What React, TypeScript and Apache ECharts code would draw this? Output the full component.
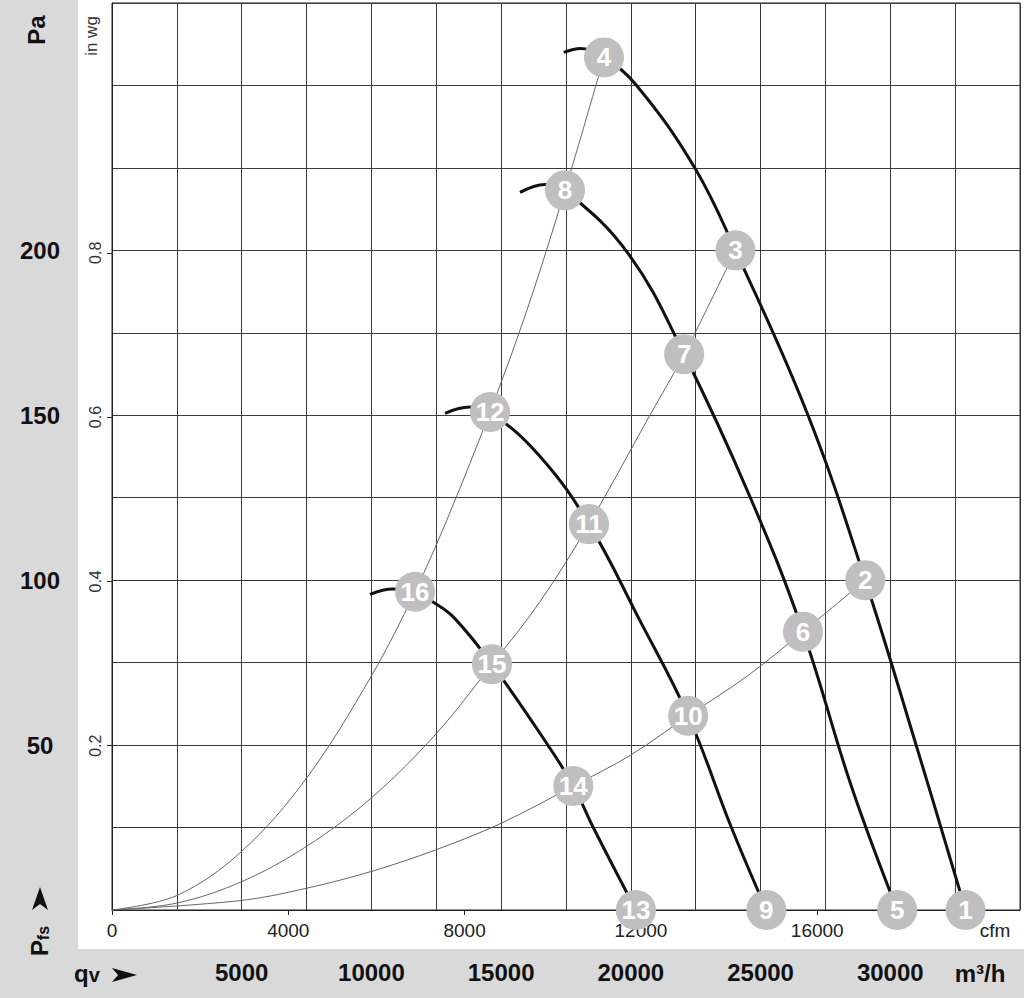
import React, { useEffect, useRef } from "react";
import * as echarts from "echarts";

// ---------- axis ticks ----------
const paTicks = [50, 100, 150, 200];
const flowTicks = [5000, 10000, 15000, 20000, 25000, 30000];
const cfmTicks = [0, 4000, 8000, 12000, 16000];
const inwgTicks = [0.2, 0.4, 0.6, 0.8];

const FLOW_MAX = 35000; // m³/h
const PA_MAX = 275;
const CFM_PER_M3H = 1 / 1.699;
const PA_PER_INWG = 249.089;

// ---------- fan curves (m³/h, Pa) ----------
const fanA_flow = [17413, 18069, 18965, 20221, 22466, 24031, 26828, 29034, 30997, 32900];
const fanA_pa = [260, 261.2, 258.5, 250, 225, 200, 150, 100, 50, 0];

const fanB_flow = [15727, 16690, 17461, 19900, 22055, 24608, 26635, 28500, 30266];
const fanB_pa = [217.6, 220, 218.2, 199, 168.5, 125, 84.4, 37.5, 0];

const fanC_flow = [12836, 13799, 14570, 16500, 18385, 20300, 22209, 23877, 25223];
const fanC_pa = [150.6, 152.5, 151, 137.5, 117, 88.5, 58.9, 25, 0];

const fanD_flow = [9945, 10831, 11680, 12373, 13200, 14648, 16800, 17782, 18552, 20194];
const fanD_pa = [95.7, 97.3, 96.5, 93.4, 88.5, 74.5, 50, 37.6, 25, 0];

// ---------- system curves (m³/h, Pa) ----------
const sys1_flow = [0, 2500, 5000, 7500, 10000, 11680, 13000, 14570, 16000, 17461, 18965];
const sys1_pa = [0, 4.4, 17.8, 40, 71, 96.5, 120, 151, 182, 218.2, 258.5];

const sys2_flow = [0, 2500, 5000, 7500, 10000, 12500, 14648, 16500, 18385, 20733, 22055, 24031];
const sys2_pa = [0, 2.1, 8.6, 19.3, 34, 53.5, 74.5, 93.5, 117, 150, 168.5, 200];

const sys3_flow = [0, 5000, 7500, 10000, 12500, 15000, 17782, 20000, 22209, 24500, 26635, 29034];
const sys3_pa = [0, 2.9, 6.6, 11.7, 18.3, 26.3, 37.6, 47, 58.9, 71, 84.4, 100];

// ---------- operating points ----------
const pointNumbers = [1, 2, 3, 4, 5, 6, 7, 8, 9, 10, 11, 12, 13, 14, 15, 16];
const pointFlow = [32900, 29034, 24031, 18965, 30266, 26635, 22055, 17461, 25223, 22209, 18385, 14570, 20194, 17782, 14648, 11680];
const pointPa = [0, 100, 200, 258.5, 0, 84.4, 168.5, 218.2, 0, 58.9, 117, 151, 0, 37.6, 74.5, 96.5];

const FONT = "Liberation Sans, Arial, Helvetica, sans-serif";
const GRID_COLOR = "#3a3a3a";

const pairs = (xs: number[], ys: number[]) => xs.map((x, i) => [x, ys[i]]);

export default function App() {
  const ref = useRef<HTMLDivElement>(null);

  useEffect(() => {
    if (!ref.current) return;
    const chart = echarts.init(ref.current, null, { renderer: "svg" });

    const fanLine = (name: string, xs: number[], ys: number[]) => ({
      name,
      type: "line",
      xAxisIndex: 0,
      yAxisIndex: 0,
      data: pairs(xs, ys),
      showSymbol: false,
      smooth: 0.4,
      lineStyle: { color: "#111", width: 3 },
      z: 3,
    });
    const sysLine = (name: string, xs: number[], ys: number[]) => ({
      name,
      type: "line",
      xAxisIndex: 0,
      yAxisIndex: 0,
      data: pairs(xs, ys),
      showSymbol: false,
      smooth: 0.35,
      lineStyle: { color: "#666", width: 1 },
      z: 2,
    });

    const option: any = {
      animation: false,
      backgroundColor: "transparent",
      textStyle: { fontFamily: FONT },
      grid: {
        left: 112,
        right: 4,
        top: 3,
        bottom: 88,
        show: true,
        borderColor: "#222",
        borderWidth: 1,
        backgroundColor: "transparent",
      },
      xAxis: [
        {
          type: "value",
          min: 0,
          max: FLOW_MAX,
          interval: 2500,
          position: "bottom",
          axisLine: { show: false, onZero: false },
          axisTick: { show: false },
          splitLine: { show: true, lineStyle: { color: GRID_COLOR, width: 1 } },
          axisLabel: {
            customValues: flowTicks,
            margin: 50,
            fontSize: 24,
            fontWeight: "bold",
            color: "#111",
            fontFamily: FONT,
            formatter: (v: number) => (flowTicks.includes(v) ? String(v) : ""),
          },
        },
        {
          type: "value",
          min: 0,
          max: FLOW_MAX * CFM_PER_M3H,
          interval: 4000,
          position: "bottom",
          axisLine: { show: true, onZero: false, lineStyle: { color: "#222", width: 1 } },
          axisTick: { show: true, length: 5, customValues: cfmTicks, lineStyle: { color: "#222" } },
          splitLine: { show: false },
          axisLabel: {
            customValues: cfmTicks,
            margin: 11,
            fontSize: 19,
            color: "#222",
            fontFamily: FONT,
            formatter: (v: number) => (cfmTicks.includes(v) ? String(v) : ""),
          },
        },
      ],
      yAxis: [
        {
          type: "value",
          min: 0,
          max: PA_MAX,
          interval: 25,
          position: "left",
          axisLine: { show: true, onZero: false, lineStyle: { color: "#222", width: 1 } },
          axisTick: { show: false },
          splitLine: { show: true, lineStyle: { color: GRID_COLOR, width: 1 } },
          axisLabel: {
            customValues: paTicks,
            margin: 72,
            align: "center",
            fontSize: 24,
            fontWeight: "bold",
            color: "#111",
            fontFamily: FONT,
            formatter: (v: number) => (paTicks.includes(v) ? String(v) : ""),
          },
        },
        {
          type: "value",
          min: 0,
          max: PA_MAX / PA_PER_INWG,
          position: "left",
          axisLine: { show: false, onZero: false },
          axisTick: { show: true, length: 5, customValues: inwgTicks, lineStyle: { color: "#222" } },
          splitLine: { show: false },
          axisLabel: {
            customValues: inwgTicks,
            rotate: 90,
            margin: 9,
            fontSize: 16,
            color: "#333",
            fontFamily: FONT,
            formatter: (v: number) => v.toFixed(1),
          },
        },
      ],
      series: [
        sysLine("sys1", sys1_flow, sys1_pa),
        sysLine("sys2", sys2_flow, sys2_pa),
        sysLine("sys3", sys3_flow, sys3_pa),
        fanLine("fanA", fanA_flow, fanA_pa),
        fanLine("fanB", fanB_flow, fanB_pa),
        fanLine("fanC", fanC_flow, fanC_pa),
        fanLine("fanD", fanD_flow, fanD_pa),
        {
          name: "points",
          type: "scatter",
          xAxisIndex: 0,
          yAxisIndex: 0,
          symbol: "circle",
          symbolSize: 40,
          itemStyle: { color: "#bfbfbf", opacity: 1 },
          data: pointNumbers.map((n, i) => [pointFlow[i], pointPa[i], n]),
          label: {
            show: true,
            position: "inside",
            formatter: (p: any) => String(p.data[2]),
            color: "#fff",
            fontSize: 26,
            fontWeight: "bold",
            fontFamily: FONT,
          },
          z: 5,
          clip: false,
        },
      ],
      graphic: [
        { type: "rect", z: -10, silent: true, shape: { x: 0, y: 0, width: 78, height: 998 }, style: { fill: "#d9d9d9" } },
        { type: "rect", z: -10, silent: true, shape: { x: 0, y: 949, width: 1024, height: 49 }, style: { fill: "#d9d9d9" } },
        {
          type: "text",
          x: 36,
          y: 30,
          rotation: Math.PI / 2,
          style: { text: "Pa", font: `bold 24px ${FONT}`, fill: "#111", align: "center", verticalAlign: "middle" },
        },
        {
          type: "text",
          x: 91,
          y: 36,
          rotation: Math.PI / 2,
          style: { text: "in wg", font: `17px ${FONT}`, fill: "#333", align: "center", verticalAlign: "middle" },
        },
        {
          type: "text",
          x: 39,
          y: 941,
          rotation: Math.PI / 2,
          style: {
            text: "{p|P}{s|fs}",
            align: "center",
            verticalAlign: "middle",
            rich: {
              p: { font: `bold 24px ${FONT}`, fill: "#111", verticalAlign: "bottom" },
              s: { font: `bold 16px ${FONT}`, fill: "#111", verticalAlign: "bottom" },
            },
          },
        },
        {
          type: "polygon",
          shape: { points: [[40, 887], [48, 910], [40, 904], [32, 910]] },
          style: { fill: "#111" },
        },
        {
          type: "text",
          x: 87,
          y: 973,
          style: {
            text: "{q|q}{v|v}",
            align: "center",
            verticalAlign: "middle",
            rich: {
              q: { font: `bold 24px ${FONT}`, fill: "#111", verticalAlign: "bottom" },
              v: { font: `bold 20px ${FONT}`, fill: "#111", verticalAlign: "bottom" },
            },
          },
        },
        {
          type: "polygon",
          shape: { points: [[137, 975], [112, 968], [118, 975], [112, 982]] },
          style: { fill: "#111" },
        },
        {
          type: "text",
          x: 980,
          y: 973,
          style: { text: "m³/h", font: `bold 24px ${FONT}`, fill: "#111", align: "center", verticalAlign: "middle" },
        },
        {
          type: "text",
          x: 995,
          y: 930,
          style: { text: "cfm", font: `19px ${FONT}`, fill: "#222", align: "center", verticalAlign: "middle" },
        },
      ],
    };

    chart.setOption(option);
    return () => chart.dispose();
  }, []);

  return (
    <div
      ref={ref}
      style={{ position: "absolute", left: 0, top: 0, width: 1024, height: 998, background: "#fff" }}
    />
  );
}
